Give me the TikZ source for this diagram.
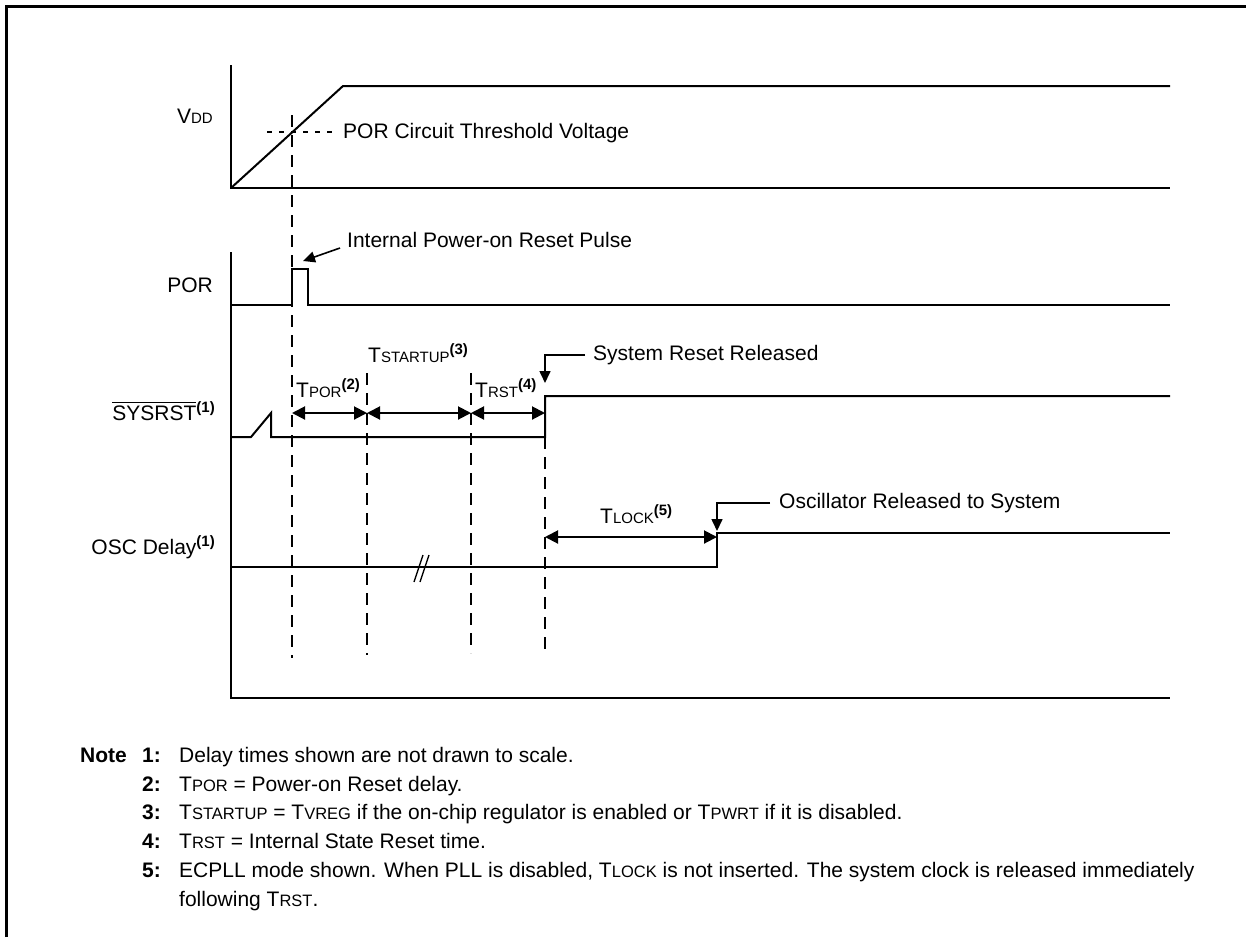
\documentclass[tikz,border=0pt]{standalone}
\usepackage{fontspec}
\setmainfont{Liberation Sans}
\usetikzlibrary{arrows.meta}
\newcommand{\sm}[1]{{\fontsize{15}{15}\selectfont #1}}
\newcommand{\smn}[1]{{\fontsize{16.5}{16.5}\selectfont #1}}
\newcommand{\ssup}[1]{\raisebox{8pt}{\fontsize{15}{15}\selectfont\bfseries #1}}
\newcommand{\ovl}[1]{\leavevmode\vbox{\hrule height 1.6pt\kern 2.2pt\hbox{#1}}}
\begin{document}
\begin{tikzpicture}[x=1pt,y=-1pt,
  sig/.style={line width=2pt},
  frm/.style={line width=3pt},
  guide/.style={line width=2pt,dash pattern=on 12pt off 8pt},
  thr/.style={line width=1.6pt,dash pattern=on 5pt off 7pt},
  dimarr/.style={line width=2pt,{Triangle[length=13pt,width=13pt]}-{Triangle[length=13pt,width=13pt]}},
  lead/.style={line width=1.6pt,-{Triangle[length=12pt,width=11pt]}},
  lbl/.style={font=\fontsize{21}{25}\selectfont,inner sep=0pt},
  notenum/.style={font=\fontsize{21}{25}\selectfont\bfseries,inner sep=0pt,anchor=base east},
  notetxt/.style={font=\fontsize{21}{25}\selectfont,inner sep=0pt,anchor=base west}
]
\useasboundingbox (0,0) rectangle (1246,937);
% frame
\draw[frm] (6,937) -- (6,6) -- (1246,6);

% ---------- VDD ----------
\coordinate (vdA) at (231,65);
\coordinate (vdB) at (231,188);
\coordinate (vdC) at (1170,188);
\coordinate (vdR) at (343,86);
\coordinate (vdE) at (1170,86);
\draw[sig] (vdA) -- (vdB) -- (vdC);
\draw[sig] (vdB) -- (vdR) -- (vdE);
\node[lbl,anchor=base east] (vddl) at (213,123) {V\sm{DD}};
\coordinate (thA) at (267,132);
\coordinate (thB) at (333,132);
\draw[thr] (thA) -- (thB);
\node[lbl,anchor=west] (thl) at (343,133) {POR Circuit Threshold Voltage};

% ---------- guides ----------
\coordinate (g1t) at (292,115);  \coordinate (g1b) at (292,658);
\coordinate (g2t) at (367,373);  \coordinate (g2b) at (367,655);
\coordinate (g3t) at (471,373);  \coordinate (g3b) at (471,653);
\coordinate (g4t) at (545,437);  \coordinate (g4b) at (545,653);
\draw[guide] (g1t) -- (g1b);
\draw[guide] (g2t) -- (g2b);
\draw[guide] (g3t) -- (g3b);
\draw[guide] (g4t) -- (g4b);

% ---------- POR ----------
\coordinate (axT) at (231,252);
\coordinate (axB) at (231,698);
\coordinate (axR) at (1170,698);
\draw[sig] (axT) -- (axB) -- (axR);
\coordinate (p0) at (231,305);
\coordinate (p1) at (292,305);
\coordinate (p2) at (292,269);
\coordinate (p3) at (308,269);
\coordinate (p4) at (308,305);
\coordinate (p5) at (1170,305);
\draw[sig] (p0) -- (p1) -- (p2) -- (p3) -- (p4) -- (p5);
\node[lbl,anchor=base east] (porl) at (213,292) {POR};
\node[lbl,anchor=west] (ipr) at (347,240) {Internal Power-on Reset Pulse};
\coordinate (iprtip) at (303,261);
\draw[lead] ([shift={(-7,8)}]ipr.west) -- (iprtip);

% ---------- SYSRST ----------
\coordinate (s0) at (231,437);
\coordinate (s1) at (251,437);
\coordinate (s2) at (271,413);
\coordinate (s3) at (271,437);
\coordinate (s4) at (545,437);
\coordinate (s5) at (545,396);
\coordinate (s6) at (1170,396);
\draw[sig] (s0) -- (s1) -- (s2) -- (s3) -- (s4) -- (s5) -- (s6);
\node[lbl,anchor=base east] (sysl) at (215,420) {\ovl{SYSRST}\ssup{(1)}};
\coordinate (d1) at (292,413);
\coordinate (d2) at (367,413);
\coordinate (d3) at (471,413);
\coordinate (d4) at (545,413);
\draw[dimarr] (d1) -- (d2);
\draw[dimarr] (d2) -- (d3);
\draw[dimarr] (d3) -- (d4);
\node[lbl,anchor=base west] (tpor) at (296,397) {T\sm{POR}\ssup{(2)}};
\node[lbl,anchor=base west] (tstart) at (368,362) {T\sm{STARTUP}\ssup{(3)}};
\node[lbl,anchor=base west] (trst) at (475,397) {T\sm{RST}\ssup{(4)}};
\node[lbl,anchor=west] (srr) at (593,355) {System Reset Released};
\coordinate (srrtip) at (545,383);
\draw[lead] ([xshift=-8pt]srr.west) -| (srrtip);

% ---------- OSC ----------
\coordinate (o0) at (231,567);
\coordinate (o1) at (717,567);
\coordinate (o2) at (717,533);
\coordinate (o3) at (1170,533);
\draw[sig] (o0) -- (o1) -- (o2) -- (o3);
\draw[line width=1.3pt] (414,582) -- (423,555);
\draw[line width=1.3pt] (420,582) -- (429,555);
\node[lbl,anchor=base east] (oscl) at (215,554) {OSC Delay\ssup{(1)}};
\coordinate (l1) at (545,537);
\coordinate (l2) at (717,537);
\draw[dimarr] (l1) -- (l2);
\node[lbl,anchor=base west] (tlock) at (600,523) {T\sm{LOCK}\ssup{(5)}};
\node[lbl,anchor=west] (ors) at (779,503) {Oscillator Released to System};
\coordinate (orstip) at (717,531);
\draw[lead] ([xshift=-9pt]ors.west) -| (orstip);

% ---------- Notes ----------
\node[notenum,anchor=base west] (noteh) at (80,762) {Note};
\node[notenum] (n1) at (161,762) {1:};
\node[notenum] (n2) at (161,791) {2:};
\node[notenum] (n3) at (161,819) {3:};
\node[notenum] (n4) at (161,848) {4:};
\node[notenum] (n5) at (161,877) {5:};
\node[notetxt] (t1) at (179,762) {Delay times shown are not drawn to scale.};
\node[notetxt] (t2) at (179,791) {T\smn{POR} = Power-on Reset delay.};
\node[notetxt] (t3) at (179,819) {T\smn{STARTUP} = T\smn{VREG} if the on-chip regulator is enabled or T\smn{PWRT} if it is disabled.};
\node[notetxt] (t4) at (179,848) {T\smn{RST} = Internal State Reset time.};
\node[notetxt] (t5) at (179,877) {ECPLL mode shown. When PLL is disabled, T\smn{LOCK} is not inserted. The system clock is released immediately};
\node[notetxt] (t6) at (179,906) {following T\smn{RST}.};
\end{tikzpicture}
\end{document}
